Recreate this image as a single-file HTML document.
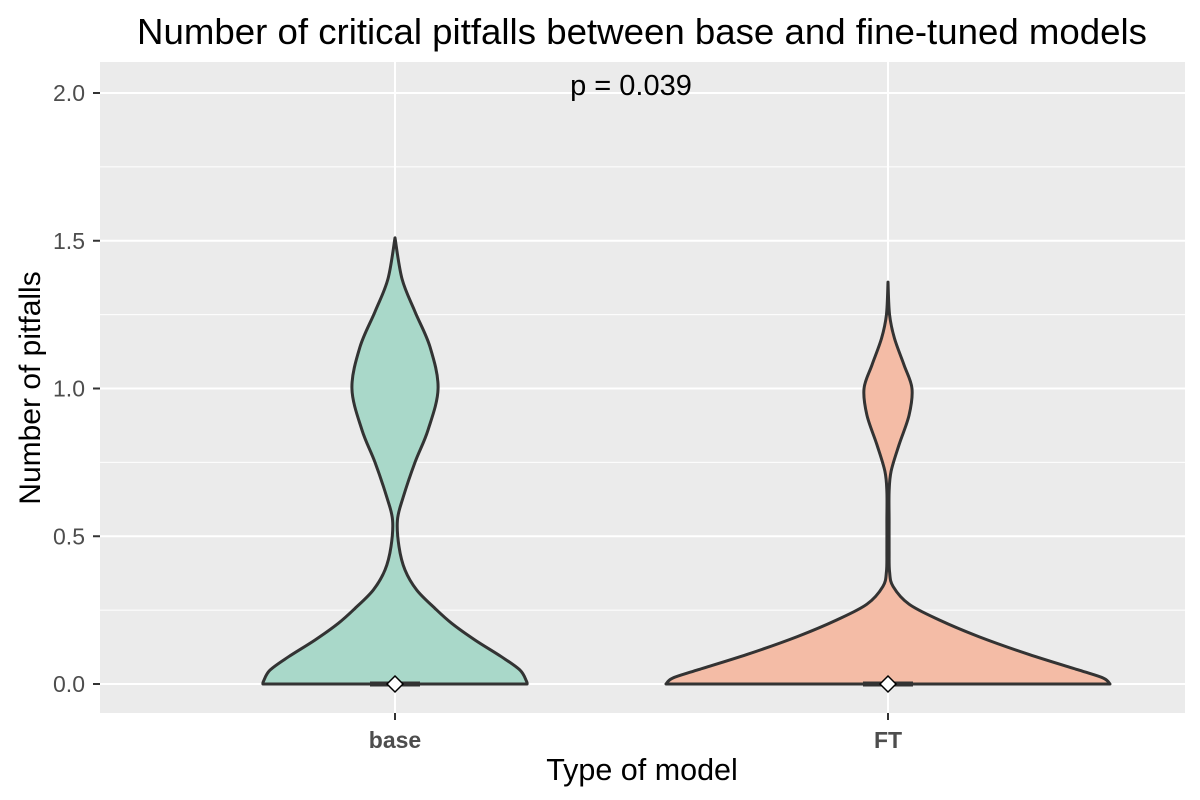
<!DOCTYPE html>
<html><head><meta charset="utf-8"><style>
body{margin:0;background:#fff;}
svg{display:block;font-family:"Liberation Sans",Arial,sans-serif;}
</style></head><body>
<svg id="chart" width="1200" height="800">
<rect width="1200" height="800" fill="#fff"/>
<rect x="100" y="62" width="1085" height="651" fill="#ebebeb"/>
<g id="grid"></g>
<g id="violins"></g>
<g id="axes"></g>
<text x="642" y="44" font-size="36.5" text-anchor="middle" fill="#000" textLength="1010" lengthAdjust="spacingAndGlyphs">Number of critical pitfalls between base and fine-tuned models</text>
<text x="631" y="95" font-size="29" text-anchor="middle" fill="#000">p = 0.039</text>
<text x="642" y="780" font-size="30.5" text-anchor="middle" fill="#000">Type of model</text>
<text transform="translate(40,388) rotate(-90)" font-size="30" text-anchor="middle" fill="#000">Number of pitfalls</text>
</svg>
<script>
const categories = ["base", "FT"];
const yTicks = [0, 0.5, 1.0, 1.5, 2.0];
const yTickLabels = ["0.0", "0.5", "1.0", "1.5", "2.0"];
const yMinor = [0.25, 0.75, 1.25, 1.75];
const medians = [0, 0];
const baseY = [0,0.01,0.047,0.092,0.149,0.205,0.256,0.318,0.386,0.465,0.555,0.63,0.75,0.86,1.0,1.14,1.26,1.37,1.51];
const baseDensity = [0.595,0.592,0.563,0.48,0.36,0.256,0.18,0.098,0.045,0.018,0.011,0.036,0.09,0.149,0.194,0.158,0.09,0.032,0];
const ftY = [0,0.02,0.047,0.1,0.16,0.217,0.27,0.33,0.38,0.45,0.55,0.65,0.72,0.81,0.91,1.0,1.08,1.17,1.25,1.36];
const ftDensity = [1,0.97,0.86,0.635,0.41,0.23,0.095,0.023,0.007,0.005,0.005,0.005,0.014,0.05,0.095,0.108,0.072,0.029,0.007,0];
const fills = ["#a9d8c9", "#f4bca6"];

const NS = "http://www.w3.org/2000/svg";
const px0 = 100, px1 = 1185;
const xScale = i => 395 + i * 493;
const yScale = v => 684 - v * 295.5;
const wScale = d => d * 222;
function mk(tag, attrs, parent){const e=document.createElementNS(NS,tag);for(const k in attrs)e.setAttribute(k,attrs[k]);parent.appendChild(e);return e;}
const grid = document.getElementById("grid");
yMinor.forEach(v=>{
  const l = mk("line",{x1:px0,x2:px1,y1:yScale(v),y2:yScale(v),stroke:"#fff","stroke-width":1},grid);
  
  
});
yTicks.forEach(v=>{
  const l = mk("line",{x1:px0,x2:px1,y1:yScale(v),y2:yScale(v),stroke:"#fff","stroke-width":2},grid);
  
  
});
categories.forEach((c,i)=>{
  const l = mk("line",{x1:xScale(i),x2:xScale(i),y1:62,y2:713,stroke:"#fff","stroke-width":2},grid);
  
  
});
function smoothPath(pts){
  let d = "M"+pts[0][0]+","+pts[0][1];
  for(let i=0;i<pts.length-1;i++){
    const p0=pts[Math.max(0,i-1)],p1=pts[i],p2=pts[i+1],p3=pts[Math.min(pts.length-1,i+2)];
    const c1=[p1[0]+(p2[0]-p0[0])/6,p1[1]+(p2[1]-p0[1])/6];
    const c2=[p2[0]-(p3[0]-p1[0])/6,p2[1]-(p3[1]-p1[1])/6];
    d+=" C"+c1[0]+","+c1[1]+" "+c2[0]+","+c2[1]+" "+p2[0]+","+p2[1];
  }
  return d;
}
const vg = document.getElementById("violins");
const ys=[baseY,ftY], ds=[baseDensity,ftDensity];
categories.forEach((c,i)=>{
  const cx=xScale(i);
  const right=ys[i].map((v,k)=>[cx+wScale(ds[i][k]),yScale(v)]);
  const left=ys[i].map((v,k)=>[cx-wScale(ds[i][k]),yScale(v)]).reverse();
  const d=smoothPath(right)+" L"+left[0][0]+","+left[0][1]+smoothPath(left).replace(/^M[^C]*/,"")+" Z";
  const p=mk("path",{d:d,fill:fills[i],stroke:"#333","stroke-width":3,"stroke-linejoin":"round"},vg);
  
  
  const b=mk("line",{x1:cx-25,x2:cx+25,y1:yScale(medians[i]),y2:yScale(medians[i]),stroke:"#333","stroke-width":5},vg);
  
  
  const y=yScale(medians[i]);
  const m=mk("path",{d:`M${cx},${y-8} L${cx+8},${y} L${cx},${y+8} L${cx-8},${y} Z`,fill:"#fff",stroke:"#000","stroke-width":1.5},vg);
  
  
});
const ax=document.getElementById("axes");
yTicks.forEach((v,k)=>{
  const t=mk("line",{x1:93,x2:100,y1:yScale(v),y2:yScale(v),stroke:"#333","stroke-width":2},ax);
  
  
  const tx=mk("text",{x:85,y:yScale(v)+8,"font-size":23,"text-anchor":"end",fill:"#4d4d4d"},ax);
  tx.textContent=yTickLabels[k];
  
  
});
categories.forEach((c,i)=>{
  const t=mk("line",{x1:xScale(i),x2:xScale(i),y1:713,y2:720,stroke:"#333","stroke-width":2},ax);
  
  
  const tx=mk("text",{x:xScale(i),y:748,"font-size":23,"font-weight":"bold","text-anchor":"middle",fill:"#4d4d4d"},ax);
  tx.textContent=c;
  
  
});
</script>
</body></html>
